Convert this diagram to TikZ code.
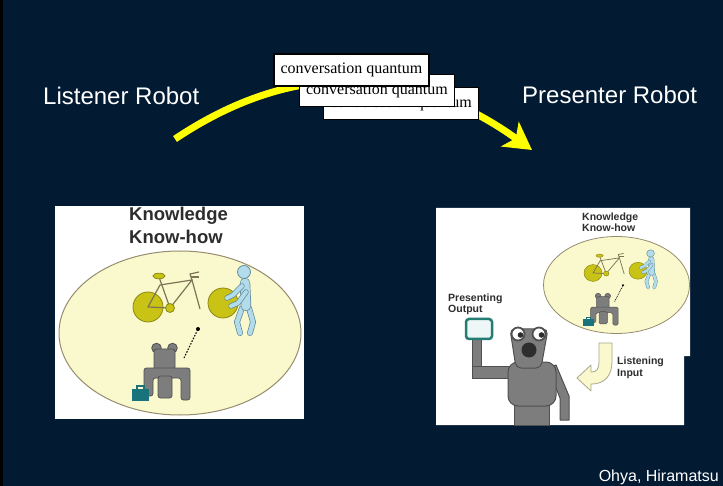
\documentclass[tikz,border=0pt]{standalone}
\usepackage{fontspec}
\setmainfont{Liberation Sans}
\newfontfamily\quantumfont{Liberation Serif}
\usetikzlibrary{arrows.meta}

\definecolor{slidebg}{RGB}{2,26,50}
\definecolor{hiyellow}{RGB}{255,255,0}
\definecolor{paleyellow}{RGB}{250,249,206}
\definecolor{ellipseline}{RGB}{150,140,110}
\definecolor{wheelfill}{RGB}{200,195,20}
\definecolor{wheelline}{RGB}{140,135,20}
\definecolor{framecol}{RGB}{125,115,85}
\definecolor{robotgray}{RGB}{125,125,125}
\definecolor{robotline}{RGB}{80,80,80}
\definecolor{caseteal}{RGB}{25,115,125}
\definecolor{humanblue}{RGB}{178,220,234}
\definecolor{humanline}{RGB}{95,135,155}
\definecolor{labelgray}{RGB}{45,45,45}
\definecolor{tabletteal}{RGB}{35,125,115}
\definecolor{tabletface}{RGB}{238,247,247}
\definecolor{mouthdark}{RGB}{45,45,45}
\definecolor{arrowline}{RGB}{170,165,140}

\def\knowlw{1}

\tikzset{
  slidetitle/.style={text=white, font=\fontsize{24}{28}\selectfont, inner sep=0pt, anchor=base west},
  qbox/.style={draw=black, line width=1.5pt, fill=white, minimum width=155pt,
    minimum height=32pt, inner sep=0pt, font=\quantumfont\fontsize{16}{18}\selectfont},
  biglabel/.style={text=labelgray, font=\bfseries\fontsize{18.5}{20}\selectfont, inner sep=0pt, anchor=base west},
  smalllabel/.style={text=labelgray, font=\bfseries\fontsize{10.5}{12}\selectfont, inner sep=0pt, anchor=base west},
  flowarrow/.style={draw=hiyellow, line width=7pt,
    -{Stealth[length=27pt, width=30pt, inset=7pt]}},
  wheel/.style={fill=wheelfill, draw=wheelline, line width=0.8pt*\knowlw},
  bikeframe/.style={draw=framecol, line width=1.2pt*\knowlw, line join=round},
  robotpart/.style={fill=robotgray, draw=robotline, line width=0.8pt*\knowlw, rounded corners=2.5pt*\knowlw},
  limb/.style={draw=humanline, line width=0.7pt*\knowlw, double=humanblue,
    double distance=#1*\knowlw, line cap=round, line join=round},
  bigrobot/.style={fill=robotgray, draw=robotline, line width=1pt},
}

% bicycle, human, small robot inside a knowledge ellipse (local frame = ellipse centre)
\newcommand\knowscene{%
  \filldraw[wheel] (-30,-25) circle (15);
  \draw[bikeframe] (-30,-25) -- (-8,-24) -- (14,-52) -- (-18,-47) -- cycle;
  \draw[bikeframe] (-8,-24) -- (-19,-55);
  \draw[bikeframe] (14,-52) -- (22,-23);
  \draw[bikeframe] (14,-52) -- (12,-58) -- (21,-60);
  \draw[bikeframe] (13,-55) -- (21,-55);
  \filldraw[wheel] (-19,-56) ellipse [x radius=6, y radius=2.8];
  \filldraw[wheel] (-8,-24) circle (4.5);
  \filldraw[wheel] (45,-29) circle (15);
  % person holding the front wheel
  \draw[limb=4.5pt] (64,-24) -- (59,-10) -- (62,1);
  \draw[limb=4.5pt] (71,-24) -- (75,-10) -- (72,1);
  \draw[limb=9pt] (67,-49) -- (68,-26);
  \draw[limb=4pt] (64,-46) -- (55,-37) -- (49,-34);
  \draw[limb=4pt] (68,-40) -- (60,-29) -- (53,-26);
  \filldraw[fill=humanblue, draw=humanline, line width=0.7pt*\knowlw] (66,-60) circle (6.5);
  % link between robot and knowledge
  \draw[black, line width=1.1pt*\knowlw, dash pattern=on 1.5pt*\knowlw off 1.5pt*\knowlw] (6,26) -- (20,-3);
  \fill[black] (20,-3) circle (2);
  % small robot with briefcase
  \filldraw[robotpart] (-21.5,16) circle (4.8);
  \filldraw[robotpart] (-5.5,16) circle (4.8);
  \filldraw[robotpart] (-24,17) rectangle (-3,38);
  \filldraw[robotpart] (-34,64) -- (-34,36) -- (12,36) -- (12,68) -- (3,68) -- (3,46) -- (-25,46) -- (-25,64) -- cycle;
  \filldraw[robotpart] (-20,44) rectangle (-6,66);
  \draw[caseteal, line width=1.2pt*\knowlw] (-41,57) -- (-41,54) -- (-34,54) -- (-34,57);
  \fill[caseteal] (-46,57) rectangle (-29,69);
}

\begin{document}
\begin{tikzpicture}[x=1pt, y=-1pt]
  \useasboundingbox (0,0) rectangle (723,486);
  \fill[slidebg] (0,0) rectangle (723,486);
  \fill[black] (0,0) rectangle (2.5,486);

  % titles
  \node[slidetitle] (listener) at (43,105) {Listener Robot};
  \node[slidetitle] (presenter) at (522,104) {Presenter Robot};

  % transfer arrow behind the quantum cards
  \coordinate (flowstart) at (175,139);
  \coordinate (flowend) at (532,150);
  \draw[flowarrow] (flowstart) .. controls (293,60) and (411,63) .. (flowend);

  % conversation quantum cards
  \node[qbox] (q3) at (401,103.5) {conversation quantum};
  \node[qbox] (q2) at (377,90.5) {conversation quantum};
  \node[qbox] (q1) at (351.5,70) {conversation quantum};

  % ---------- listener panel ----------
  \fill[white] (55,206) rectangle (304,419);
  \node[biglabel] (knowL) at (129,221) {Knowledge};
  \node[biglabel] (howL) at (129,244) {Know-how};
  \filldraw[fill=paleyellow, draw=ellipseline, line width=1pt] (180,333) ellipse [x radius=121, y radius=82];
  \begin{scope}[shift={(178,332)}]
    \knowscene
  \end{scope}

  % ---------- presenter panel ----------
  \fill[white] (436,208) -- (690,208) -- (690,356) -- (684,356) -- (684,425) -- (436,425) -- cycle;
  \node[smalllabel] (knowR) at (582,221) {Knowledge};
  \node[smalllabel] (howR) at (582,232) {Know-how};
  \filldraw[fill=paleyellow, draw=ellipseline, line width=0.8pt] (616.5,285) ellipse [x radius=73, y radius=48.5];
  \def\knowlw{0.6}
  \begin{scope}[shift={(611,287)}, xscale=0.6, yscale=0.56]
    \knowscene
  \end{scope}

  \node[smalllabel] (presentL) at (448,302) {Presenting};
  \node[smalllabel] (outputL) at (448,313) {Output};
  \node[smalllabel] (listenL) at (617,364) {Listening};
  \node[smalllabel] (inputL) at (617,376) {Input};

  % presenter robot
  \filldraw[bigrobot] (472,338) rectangle (481,377);
  \filldraw[bigrobot] (472,366) rectangle (514,378);
  \filldraw[bigrobot, line join=round] (548,368) -- (556,365) -- (569,396) -- (569,420) -- (560,420) -- (560,398) -- cycle;
  \filldraw[bigrobot] (514,402) rectangle (549,425);
  \filldraw[bigrobot, rounded corners=10pt] (508,362) rectangle (556,406);
  \filldraw[bigrobot, rounded corners=5pt] (510,329) -- (548,329) -- (541,368) -- (516,368) -- cycle;
  \filldraw[fill=white, draw=robotline, line width=1.8pt] (518,334) circle (6.5);
  \filldraw[fill=white, draw=robotline, line width=1.8pt] (539,334) circle (6.5);
  \fill[mouthdark] (520.5,335) circle (2.8);
  \fill[mouthdark] (541.5,335) circle (2.8);
  \fill[mouthdark] (529,350) circle (7.5);
  \filldraw[fill=tabletface, draw=tabletteal, line width=2.5pt, rounded corners=3pt] (466,319) rectangle (492,339);

  % listening input arrow
  \filldraw[fill=paleyellow, draw=arrowline, line width=0.8pt, line join=round]
    (599,343) -- (612,343) -- (612,362) .. controls (612,376) and (604,384) .. (592,384)
    -- (591,384) -- (591,391) -- (577,378) -- (591,365) -- (591,372) -- (592,372)
    .. controls (597,372) and (599,368) .. (599,362) -- cycle;

  % credit
  \node[anchor=base east, text=white, font=\fontsize{16}{18}\selectfont, inner sep=0pt] (credit) at (719,481) {Ohya, Hiramatsu};
\end{tikzpicture}
\end{document}
